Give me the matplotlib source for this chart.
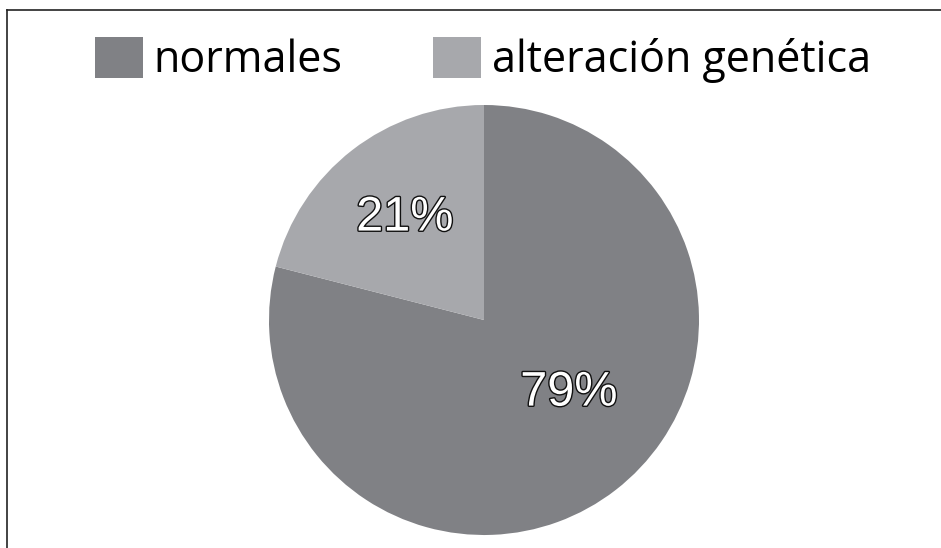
import matplotlib
matplotlib.use("Agg")
import matplotlib.pyplot as plt
import matplotlib.patheffects as pe
from matplotlib.patches import Patch
from matplotlib.lines import Line2D

labels = ["normales", "alteración genética"]
shares = [79, 21]
colors = ["#808185", "#a7a8ac"]

fig = plt.figure(figsize=(9.41, 5.48), dpi=100)

# pie axes: square area of 430 px centred near (484, 320)
ax = fig.add_axes([269 / 941, 13 / 548, 430 / 941, 430 / 548])
wedges, _, pcts = ax.pie(shares, colors=colors, startangle=90, counterclock=False,
                         autopct="%d%%", pctdistance=0.6,
                         wedgeprops=dict(linewidth=0))
ax.set_xlim(-1, 1)
ax.set_ylim(-1, 1)
ax.set_aspect("equal")
ax.axis("off")

# the big label sits a bit off the default spot
pcts[0].set_position((0.395, -0.34))
for t in pcts:
    t.set_family("Liberation Sans")
    t.set_fontsize(35)
    t.set_color("white")
    t.set_path_effects([pe.Stroke(linewidth=2.0, foreground="#111111"), pe.Normal()])

handles = [Patch(facecolor=c, edgecolor="none") for c in colors]
fig.legend(handles, labels, loc="center", bbox_to_anchor=(0.513, 0.89), ncol=2,
           frameon=False, prop={"family": "Open Sans", "size": 31},
           handlelength=1.12, handleheight=1.1, handletextpad=0.25,
           columnspacing=2.1)

# frame: left and top edges only
fig.add_artist(Line2D([7 / 941, 7 / 941], [0, 1 - 10 / 548], color="#222222", lw=1.2))
fig.add_artist(Line2D([7 / 941, 1], [1 - 10 / 548, 1 - 10 / 548], color="#222222", lw=1.2))

fig.savefig("out.png", dpi=100)
